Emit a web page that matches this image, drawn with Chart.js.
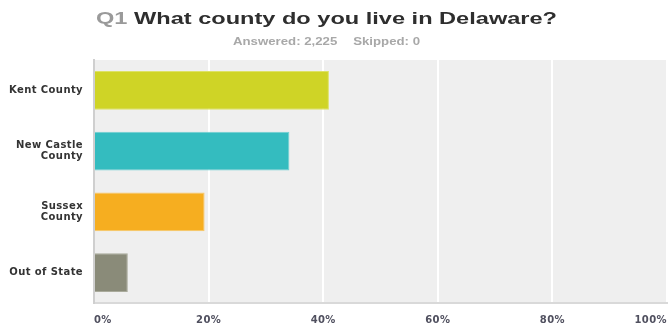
<!DOCTYPE html>
<html>
<head>
<meta charset="utf-8">
<script src="https://cdn.jsdelivr.net/npm/chart.js@4/dist/chart.umd.min.js"></script>
<style>
  html, body { margin: 0; padding: 0; background: #ffffff; }
  #wrap { width: 670px; height: 327px; position: relative; }
</style>
</head>
<body>
<div id="wrap"><canvas id="chart" width="670" height="327"></canvas></div>
<script>
// Survey question and response counts
const questionNumber = 'Q1';
const questionText = 'What county do you live in Delaware?';
const answeredText = 'Answered: 2,225';
const skippedText = 'Skipped: 0';

// Answer choices (multi-line labels as arrays)
const categories = [
  'Kent County',
  ['New Castle', 'County'],
  ['Sussex', 'County'],
  'Out of State'
];

// Share of respondents, percent
const responsePercent = [41.0, 34.1, 19.3, 5.9];

// Bar fills and their lighter outlines
const barColors = ['#cfd426', '#34bcbf', '#f6ae20', '#8a8b79'];
const barEdges = ['#dde266', '#6fd0d2', '#f9c663', '#a9aa9b'];

// Horizontal axis ticks
const tickValues = [0, 20, 40, 60, 80, 100];

const FONT = '"DejaVu Sans", "Liberation Sans", Arial, sans-serif';
const HEAD_FONT = '"Liberation Sans", Arial, Helvetica, sans-serif';

// Grey panel behind the plot area; wide tracking for axis text
const panelPlugin = {
  id: 'panel',
  beforeDraw(chart) {
    const { ctx, chartArea: a } = chart;
    ctx.save();
    ctx.fillStyle = '#efefef';
    ctx.fillRect(a.left, a.top, a.right - a.left, a.bottom - a.top);
    ctx.restore();
    ctx.letterSpacing = '0.4px';
  },
  afterDraw(chart) {
    chart.ctx.letterSpacing = '0px';
  }
};

// Draw a run of text pieces stretched horizontally to a given total width
function drawStretched(ctx, pieces, centerX, baseline, totalWidth) {
  const natural = pieces.reduce((s, p) => s + ctx.measureText(p.text).width + (p.gap || 0), 0);
  const k = totalWidth / natural;
  ctx.save();
  ctx.translate(centerX - totalWidth / 2, baseline);
  ctx.scale(k, 1);
  let x = 0;
  pieces.forEach(p => {
    ctx.fillStyle = p.color;
    ctx.fillText(p.text, x, 0);
    x += ctx.measureText(p.text).width + (p.gap || 0);
  });
  ctx.restore();
}

// Question heading and answered/skipped line
const headingPlugin = {
  id: 'heading',
  afterDraw(chart) {
    const { ctx } = chart;
    ctx.save();
    ctx.letterSpacing = '0px';
    ctx.textAlign = 'left';
    ctx.textBaseline = 'alphabetic';
    ctx.font = 'bold 17px ' + HEAD_FONT;
    drawStretched(ctx, [
      { text: questionNumber + ' ', color: '#9a9a9a' },
      { text: questionText, color: '#2e2e2e' }
    ], 326.5, 24, 461);

    ctx.font = 'bold 10px ' + HEAD_FONT;
    drawStretched(ctx, [
      { text: answeredText, color: '#a8a8a8', gap: 12 },
      { text: skippedText, color: '#a8a8a8' }
    ], 326.5, 45, 187);
    ctx.restore();
  }
};

new Chart(document.getElementById('chart'), {
  type: 'bar',
  data: {
    labels: categories,
    datasets: [{
      data: responsePercent,
      backgroundColor: barColors,
      borderColor: barEdges,
      borderWidth: 1,
      borderSkipped: 'start',
      barPercentage: 0.64,
      categoryPercentage: 1.0
    }]
  },
  options: {
    indexAxis: 'y',
    responsive: false,
    animation: false,
    layout: { padding: { top: 60, right: 3, bottom: 0, left: 0 } },
    plugins: {
      legend: { display: false },
      tooltip: { enabled: false }
    },
    scales: {
      x: {
        min: 0,
        max: 100,
        afterBuildTicks(scale) {
          scale.ticks = tickValues.map(v => ({ value: v }));
        },
        afterFit(scale) {
          scale.height = 24;
          scale.paddingLeft = 0;
          scale.paddingRight = 0;
        },
        grid: {
          color: ctx => (ctx.index === 0 ? 'rgba(0,0,0,0)' : '#ffffff'),
          lineWidth: 2,
          drawTicks: false
        },
        border: { display: true, color: '#d9d9d9', width: 2 },
        ticks: {
          align: 'inner',
          padding: 11,
          color: '#50505f',
          font: { family: FONT, size: 10, weight: 'bold' },
          callback: v => v + '%'
        }
      },
      y: {
        afterFit(scale) { scale.width = 94; },
        grid: { display: false, drawTicks: false },
        border: { display: true, color: '#cfcfcf', width: 2 },
        ticks: {
          padding: 11,
          color: '#333333',
          font: { family: FONT, size: 10, weight: 'bold', lineHeight: 1.15 }
        }
      }
    }
  },
  plugins: [panelPlugin, headingPlugin]
});
</script>
</body>
</html>
